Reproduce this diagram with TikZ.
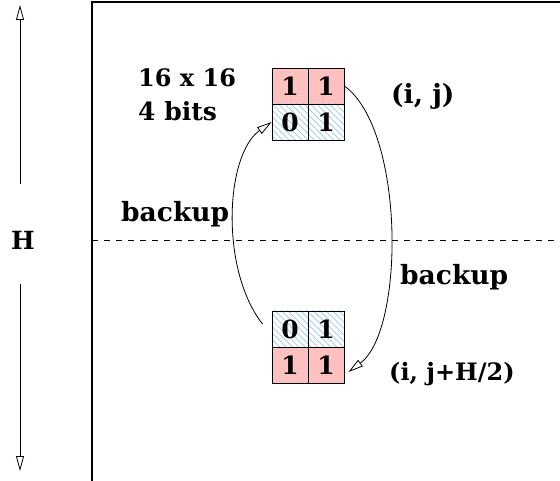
\documentclass[tikz,border=0pt]{standalone}
\usepackage{fontspec}
\setmainfont{DejaVu Serif}
\usetikzlibrary{arrows.meta,patterns.meta}
\definecolor{cellpink}{RGB}{255,192,192}
\definecolor{hatchblue}{RGB}{150,200,240}
\begin{document}
\begin{tikzpicture}[x=1pt,y=-1pt,
  lbl/.style={font=\fontsize{#1}{30}\selectfont\bfseries, inner sep=0pt},
  lbl/.default=25,
  cell/.style={draw=black, line width=0.9pt, minimum size=36pt, inner sep=0pt,
               font=\fontsize{25}{30}\selectfont\bfseries},
  pinkcell/.style={cell, fill=cellpink},
  hatchcell/.style={cell, preaction={fill=white},
               pattern={Lines[angle=-45, distance=4.5pt, line width=0.7pt]},
               pattern color=hatchblue},
  openarrow/.style={-{Triangle[open, length=15pt, width=8pt]}, line width=0.8pt},
  frameline/.style={line width=1.2pt}]
\useasboundingbox (0,0) rectangle (560,481);

% frame of the memory area and the half-way mark
\draw[frameline] (92,481) -- (92,2) -- (560,2);
\draw[line width=0.8pt, dash pattern=on 6pt off 6pt] (92,240) -- (560,240);

% height arrow
\node[lbl] (H) at (23,240) {H};
\coordinate (htop) at (20,5);
\coordinate (hbot) at (20,471);
\coordinate (hup) at (20,184);
\coordinate (hdown) at (20,284);
\draw[openarrow] (hup) -- (htop);
\draw[openarrow] (hdown) -- (hbot);

% top block at (i, j)
\node[pinkcell]  (t00) at (290,86)  {1};
\node[pinkcell]  (t01) at (326,86)  {1};
\node[hatchcell] (t10) at (290,122) {0};
\node[hatchcell] (t11) at (326,122) {1};

% bottom block at (i, j+H/2)
\node[hatchcell] (b00) at (290,329) {0};
\node[hatchcell] (b01) at (326,329) {1};
\node[pinkcell]  (b10) at (290,365) {1};
\node[pinkcell]  (b11) at (326,365) {1};

% labels
\node[lbl=24, anchor=base west] (size) at (138,87)  {16 x 16};
\node[lbl=25, anchor=base west] (bits) at (138,121) {4 bits};
\node[lbl=26.5, anchor=base west] (pos1) at (391,104) {(i, j)};
\node[lbl=24, anchor=base west] (pos2) at (389,381) {(i, j+H/2)};
\node[lbl=26.5, anchor=base west] (bk1)  at (121,222) {backup};
\node[lbl=26.5, anchor=base west] (bk2)  at (400,285) {backup};

% backup transfers
\coordinate (lstart) at ([shift={(-9,-5)}]b00.west);
\coordinate (rend)   at ([shift={(4,7)}]b11.east);
\draw[openarrow] (lstart) .. controls (220,270) and (225,155) .. (t10.west);
\draw[openarrow] (t01.east) .. controls (405,130) and (405,330) .. (rend);
\end{tikzpicture}
\end{document}
